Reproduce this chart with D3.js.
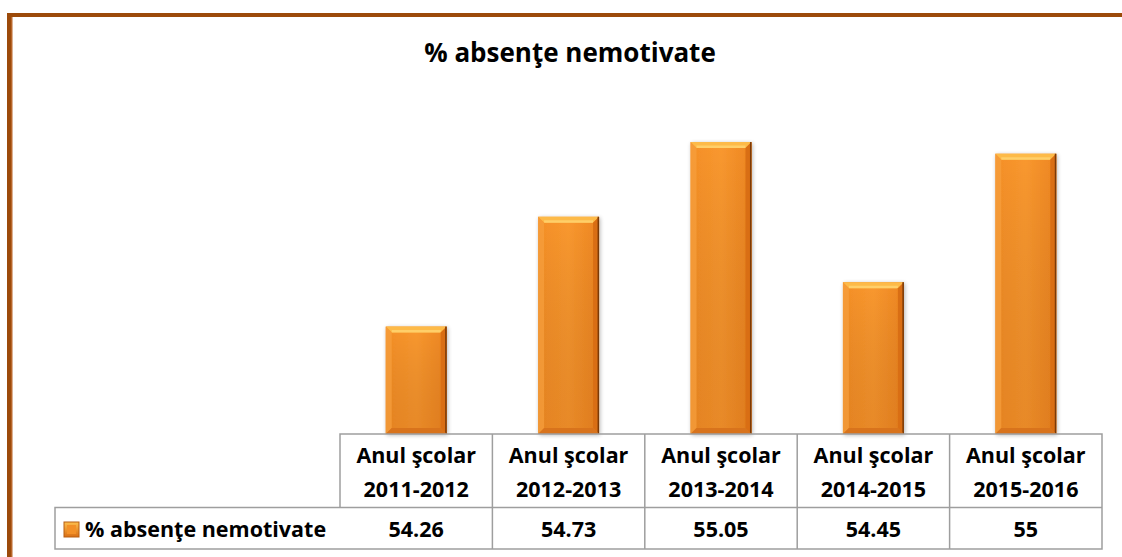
<!DOCTYPE html>
<html>
<head>
<meta charset="utf-8">
<script src="https://cdn.jsdelivr.net/npm/d3@7"></script>
<style>
  body { margin: 0; background: #fff; }
  svg { display: block; font-family: "Open Sans", Lato, sans-serif; }
</style>
</head>
<body>
<svg width="1122" height="557"></svg>
<script>
// Data
const title = "% absenţe nemotivate";
const seriesName = "% absenţe nemotivate";
const categories = ["2011-2012", "2012-2013", "2013-2014", "2014-2015", "2015-2016"];
const categoryPrefix = "Anul şcolar";
const values = [54.26, 54.73, 55.05, 54.45, 55];
const valueLabels = ["54.26", "54.73", "55.05", "54.45", "55"];

let svg = d3.select("svg");
let width = +svg.attr("width");
let height = +svg.attr("height");

// Frame (brown border on top and left)
const frameColor = "#9C4A0A";
svg.append("rect").attr("x", 7).attr("y", 13).attr("width", width - 7).attr("height", 4).attr("fill", frameColor);
svg.append("rect").attr("x", 7).attr("y", 13).attr("width", 5).attr("height", height - 13).attr("fill", frameColor);
svg.append("rect").attr("x", 11).attr("y", 17).attr("width", 1.5).attr("height", height - 17).attr("fill", "#B8662A");

// Title
svg.append("text")
  .attr("x", 570).attr("y", 62)
  .attr("text-anchor", "middle")
  .attr("font-size", 26).attr("font-weight", "bold")
  .attr("fill", "#000")
  .text(title);

// Scales
const tableLeft = 340, tableRight = 1102, plotBottom = 434, plotTop = 107;
let x = d3.scaleBand().domain(categories).range([tableLeft, tableRight]).paddingInner(0).paddingOuter(0);
let y = d3.scaleLinear().domain([53.8, 55.2]).range([plotBottom, plotTop]);

// Gradients
const defs = svg.append("defs");
const body = defs.append("linearGradient").attr("id", "barBody").attr("x1", 0).attr("x2", 1).attr("y1", 0).attr("y2", 0);
body.append("stop").attr("offset", "0%").attr("stop-color", "#F58F26");
body.append("stop").attr("offset", "50%").attr("stop-color", "#F9982F");
body.append("stop").attr("offset", "100%").attr("stop-color", "#EE8621");
const shade = defs.append("linearGradient").attr("id", "barShade").attr("x1", 0).attr("x2", 0).attr("y1", 0).attr("y2", 1);
shade.append("stop").attr("offset", "0%").attr("stop-color", "#000").attr("stop-opacity", 0);
shade.append("stop").attr("offset", "100%").attr("stop-color", "#8A3A00").attr("stop-opacity", 0.15);
const filt = defs.append("filter").attr("id", "shadow").attr("x", "-20%").attr("y", "-10%").attr("width", "140%").attr("height", "120%");
filt.append("feGaussianBlur").attr("in", "SourceAlpha").attr("stdDeviation", 2);
filt.append("feOffset").attr("dx", 1).attr("dy", 1).attr("result", "b");
filt.append("feComponentTransfer").append("feFuncA").attr("type", "linear").attr("slope", 0.3);
const merge = filt.append("feMerge");
merge.append("feMergeNode");
merge.append("feMergeNode").attr("in", "SourceGraphic");

// Bars
const barW = x.bandwidth() * 0.4;
const bev = 6;
let bars = svg.selectAll(".bar").data(values).enter().append("g")
  .attr("class", "bar")
  .attr("transform", (d, i) => "translate(" + (x(categories[i]) + (x.bandwidth() - barW) / 2) + "," + y(d) + ")");

bars.append("rect").attr("width", barW).attr("height", d => plotBottom - y(d))
  .attr("fill", "url(#barBody)").attr("filter", "url(#shadow)");
bars.append("rect").attr("width", barW).attr("height", d => plotBottom - y(d)).attr("fill", "url(#barShade)");
// top bevel
bars.append("path").attr("d", `M0,0 L${barW},0 L${barW - bev},${bev} L${bev},${bev} Z`).attr("fill", "#FDBA48");
bars.append("path").attr("d", `M${bev},${bev - 2.5} L${barW - bev},${bev - 2.5} L${barW - bev},${bev} L${bev},${bev} Z`).attr("fill", "#FFD572").attr("opacity", 0.8);
// left bevel
bars.append("path").attr("d", d => `M0,0 L${bev},${bev} L${bev},${plotBottom - y(d) - bev} L0,${plotBottom - y(d)} Z`).attr("fill", "#F7A03E").attr("opacity", 0.7);
// right bevel
bars.append("path").attr("d", d => `M${barW},0 L${barW - bev},${bev} L${barW - bev},${plotBottom - y(d) - bev} L${barW},${plotBottom - y(d)} Z`).attr("fill", "#D96E14");
bars.append("rect").attr("x", barW - 1.5).attr("width", 1.5).attr("height", d => plotBottom - y(d)).attr("fill", "#7A3A08");
// bottom bevel
bars.append("path").attr("d", d => `M0,${plotBottom - y(d)} L${bev},${plotBottom - y(d) - bev} L${barW - bev},${plotBottom - y(d) - bev} L${barW},${plotBottom - y(d)} Z`).attr("fill", "#D8731C");

// Data table
const gridColor = "#9E9E9E";
const row1Top = plotBottom, row2Top = 507.5, tableBottom = 549, legendLeft = 55;
let grid = svg.append("g").attr("stroke", gridColor).attr("stroke-width", 1.5).attr("fill", "none");
grid.append("path").attr("d", `M${tableLeft},${row2Top} V${row1Top} H${tableRight} V${tableBottom} H${legendLeft} V${row2Top} H${tableRight}`);
grid.selectAll(".vline").data(categories.slice(1)).enter().append("line")
  .attr("x1", d => x(d)).attr("x2", d => x(d))
  .attr("y1", row1Top).attr("y2", tableBottom);

let heads = svg.append("g").attr("font-size", 21.5).attr("font-weight", "bold").attr("text-anchor", "middle").attr("fill", "#000");
heads.selectAll(".h1").data(categories).enter().append("text")
  .attr("x", d => x(d) + x.bandwidth() / 2).attr("y", 463).text(categoryPrefix);
heads.selectAll(".h2").data(categories).enter().append("text")
  .attr("x", d => x(d) + x.bandwidth() / 2).attr("y", 497).text(d => d);
heads.selectAll(".v").data(valueLabels).enter().append("text")
  .attr("x", (d, i) => x(categories[i]) + x.bandwidth() / 2).attr("y", 536.5).text(d => d);

// Legend key in the table
const lg = defs.append("linearGradient").attr("id", "keyGrad").attr("x1", 0).attr("x2", 0).attr("y1", 0).attr("y2", 1);
lg.append("stop").attr("offset", "0%").attr("stop-color", "#FDBF4E");
lg.append("stop").attr("offset", "100%").attr("stop-color", "#D96E14");
svg.append("rect").attr("x", 64).attr("y", 522).attr("width", 15).attr("height", 15)
  .attr("fill", "url(#keyGrad)").attr("stroke", "#B85E12").attr("stroke-width", 1);
svg.append("rect").attr("x", 67).attr("y", 525).attr("width", 9).attr("height", 9).attr("fill", "#F39028");
svg.append("text").attr("x", 85).attr("y", 536.5)
  .attr("font-size", 21.5).attr("font-weight", "bold").attr("fill", "#000")
  .text(seriesName);
</script>
</body>
</html>
